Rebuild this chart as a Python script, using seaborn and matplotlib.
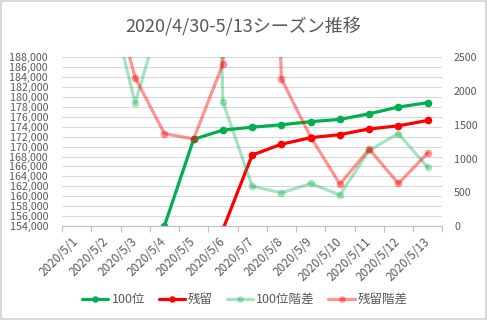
import numpy as np
import pandas as pd
import matplotlib
matplotlib.use('Agg')
import matplotlib.pyplot as plt
import seaborn as sns

# data
dates = ['2020/5/1', '2020/5/2', '2020/5/3', '2020/5/4', '2020/5/5', '2020/5/6', '2020/5/7',
         '2020/5/8', '2020/5/9', '2020/5/10', '2020/5/11', '2020/5/12', '2020/5/13']
rank100 = [145300, 148900, 150700, 154000, 171480, 173320, 173910,
           174400, 175030, 175490, 176610, 177980, 178850]
zanryu = [142400, 146200, 148400, 149800, 151100, 153300, 168300,
          170480, 171800, 172420, 173560, 174190, 175270]
rank100_diff = [np.nan, 3600, 1820, 3300, 17480, 1840, 590,
                490, 630, 460, 1120, 1370, 870]
zanryu_diff = [np.nan, 3800, 2200, 1370, 1290, 2400, 15000,
               2180, 1320, 620, 1140, 630, 1080]

labels = ['100位', '残留', '100位階差', '残留階差']
GREEN = '#00B050'
RED = '#FF0000'
TEXT = '#595959'

sns.set_style('white')
plt.rcParams['font.family'] = ['Noto Sans CJK JP', 'DejaVu Sans']

df = pd.DataFrame({'x': np.arange(len(dates)), 'rank100': rank100, 'zanryu': zanryu,
                   'rank100_diff': rank100_diff, 'zanryu_diff': zanryu_diff})

fig = plt.figure(figsize=(4.87, 3.2), dpi=100)
fig.patch.set_edgecolor('#d9d9d9')
fig.patch.set_linewidth(1.5)
ax = fig.add_axes([0.1273, 0.29375, 0.7809, 0.5272])
ax2 = ax.twinx()

line_kw = dict(marker='o', linewidth=2.3, markersize=5.5, markeredgewidth=0, estimator=None)
sns.lineplot(data=df, x='x', y='rank100', ax=ax, color=GREEN, label=labels[0], **line_kw)
sns.lineplot(data=df, x='x', y='zanryu', ax=ax, color=RED, label=labels[1], **line_kw)
sns.lineplot(data=df, x='x', y='rank100_diff', ax=ax2, color=GREEN, alpha=0.35, label=labels[2], **line_kw)
sns.lineplot(data=df, x='x', y='zanryu_diff', ax=ax2, color=RED, alpha=0.42, label=labels[3], **line_kw)

for a in (ax, ax2):
    if a.get_legend() is not None:
        a.get_legend().remove()
    a.set_xlabel('')
    a.set_ylabel('')
    for s in a.spines.values():
        s.set_visible(False)

ax.set_xlim(-0.5, len(dates) - 0.5)
ax.set_ylim(154000, 188000)
ax.set_yticks(np.arange(154000, 188001, 2000))
ax.set_yticklabels([f'{v:,}' for v in range(154000, 188001, 2000)])
ax.yaxis.grid(True, color='#d9d9d9', linewidth=0.8)
ax.set_axisbelow(True)
ax.tick_params(axis='y', length=0, pad=10, labelsize=7.7, labelcolor=TEXT)

ax2.set_ylim(0, 2500)
ax2.set_yticks(np.arange(0, 2501, 500))
ax2.tick_params(axis='y', length=0, pad=8.5, labelsize=7.7, labelcolor=TEXT)

ax.spines['bottom'].set_visible(True)
ax.spines['bottom'].set_color('#bfbfbf')
ax.spines['bottom'].set_linewidth(0.8)
ax.set_xticks(np.arange(len(dates)))
ax.set_xticklabels(dates, rotation=45, ha='right', va='center', rotation_mode='anchor')
ax.set_xticks(np.arange(-0.5, len(dates)), minor=True)
ax.tick_params(axis='x', which='major', length=0, pad=10, labelsize=8.5, labelcolor=TEXT)
ax.tick_params(axis='x', which='minor', length=4, width=0.8, color='#bfbfbf', bottom=True)

fig.text(0.5, 0.916, '2020/4/30-5/13シーズン推移', ha='center', va='center',
         fontsize=13, color=TEXT)

handles = ax.get_lines()[:2] + ax2.get_lines()[:2]
fig.legend(handles, labels, loc='center', bbox_to_anchor=(0.503, 0.064), ncol=4,
           frameon=False, fontsize=9, labelcolor=TEXT, handlelength=2.1,
           handletextpad=0.25, columnspacing=1.1, markerscale=0.85)

fig.savefig('out.png', dpi=100)
